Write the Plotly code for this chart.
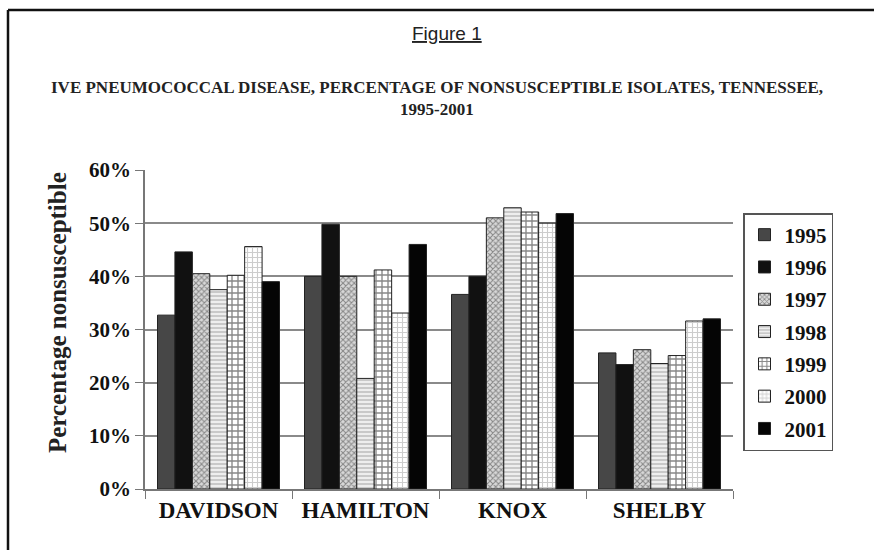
import plotly.graph_objects as go

counties = ["DAVIDSON", "HAMILTON", "KNOX", "SHELBY"]
years = ["1995", "1996", "1997", "1998", "1999", "2000", "2001"]
pct_1995 = [32.7, 40.0, 36.6, 25.6]
pct_1996 = [44.6, 49.8, 40.0, 23.4]
pct_1997 = [40.5, 40.0, 51.0, 26.2]
pct_1998 = [37.5, 20.8, 52.9, 23.6]
pct_1999 = [40.2, 41.2, 52.1, 25.1]
pct_2000 = [45.6, 33.1, 50.0, 31.6]
pct_2001 = [39.0, 46.0, 51.8, 32.0]
series = [pct_1995, pct_1996, pct_1997, pct_1998, pct_1999, pct_2000, pct_2001]
y_ticks = [0, 10, 20, 30, 40, 50, 60]
y_tick_labels = ["0%", "10%", "20%", "30%", "40%", "50%", "60%"]

styles = [
    dict(color="#474747", pattern=dict(shape="")),
    dict(color="#111111", pattern=dict(shape="")),
    dict(color="#ffffff", pattern=dict(shape="x", fgcolor="#333333", bgcolor="#d8d8d8", size=4, solidity=0.45)),
    dict(color="#ffffff", pattern=dict(shape="-", fgcolor="#9c9c9c", bgcolor="#eeeeee", size=4, solidity=0.45)),
    dict(color="#ffffff", pattern=dict(shape="+", fgcolor="#111111", bgcolor="#ffffff", size=6, solidity=0.4)),
    dict(color="#ffffff", pattern=dict(shape="+", fgcolor="#9a9a9a", bgcolor="#ffffff", size=5, solidity=0.4)),
    dict(color="#050505", pattern=dict(shape="")),
]

serif = "Liberation Serif, Times New Roman, serif"
fig = go.Figure()
for yr, vals, st in zip(years, series, styles):
    fig.add_trace(go.Bar(
        name=yr, x=counties, y=vals, legendgroup=yr,
        marker=dict(color=st["color"], pattern=st["pattern"],
                    line=dict(color="#222222", width=1)),
    ))

L, R, T, B = 145, 141, 170, 61
W, H = 874, 550
pw, ph = W - L - R, H - T - B
def px(x):
    return (x - L) / pw
def py(y):
    return (H - B - y) / ph

fig.update_layout(
    width=W, height=H,
    margin=dict(l=L, r=R, t=T, b=B),
    paper_bgcolor="white", plot_bgcolor="white",
    barmode="group", bargap=0.17, bargroupgap=0,
    font=dict(family=serif, color="#111111"),
    showlegend=True,
    legend=dict(
        x=px(743), y=py(213), xanchor="left", yanchor="top",
        bordercolor="#555555", borderwidth=1.5,
        font=dict(family=serif, size=21, color="#111111", weight="bold"),
        traceorder="grouped", tracegroupgap=2,
        itemwidth=30,
    ),
    xaxis=dict(
        showline=True, linecolor="#777777", linewidth=1.5,
        ticks="outside", tickson="boundaries", ticklen=8, tickcolor="#777777",
        tickfont=dict(family=serif, size=23, color="#111111", weight="bold"),
        showgrid=False,
    ),
    yaxis=dict(
        range=[0, 60], tickvals=y_ticks, ticktext=y_tick_labels,
        showline=True, linecolor="#777777", linewidth=1.5,
        ticks="outside", ticklen=8, tickcolor="#777777",
        tickfont=dict(family=serif, size=21, color="#111111", weight="bold"),
        showgrid=True, gridcolor="#8a8a8a", gridwidth=1.5,
        zeroline=False,
    ),
    shapes=[
        dict(type="line", xref="paper", yref="paper", x0=px(8), x1=px(874), y0=py(10), y1=py(10),
             line=dict(color="#111111", width=2.5)),
        dict(type="line", xref="paper", yref="paper", x0=px(8), x1=px(8), y0=py(10), y1=py(550),
             line=dict(color="#111111", width=2.5)),
    ],
    annotations=[
        dict(text="<u>Figure 1</u>", xref="paper", yref="paper", x=px(447), y=py(33),
             xanchor="center", yanchor="middle", showarrow=False,
             font=dict(family="Liberation Sans", size=19, color="#222222")),
        dict(text="<b>IVE PNEUMOCOCCAL DISEASE, PERCENTAGE OF NONSUSCEPTIBLE ISOLATES, TENNESSEE,</b>",
             xref="paper", yref="paper", x=px(437), y=py(87),
             xanchor="center", yanchor="middle", showarrow=False,
             font=dict(family=serif, size=17, color="#222222")),
        dict(text="<b>1995-2001</b>", xref="paper", yref="paper", x=px(437), y=py(110),
             xanchor="center", yanchor="middle", showarrow=False,
             font=dict(family=serif, size=17, color="#222222")),
        dict(text="<b>Percentage nonsusceptible</b>", xref="paper", yref="paper", x=px(57), y=py(313),
             xanchor="center", yanchor="middle", showarrow=False, textangle=-90,
             font=dict(family=serif, size=25, color="#222222")),
    ],
)

fig.write_html("out.html", config={"displayModeBar": False},
               post_script="document.body.style.margin='0';document.body.style.padding='0';")
